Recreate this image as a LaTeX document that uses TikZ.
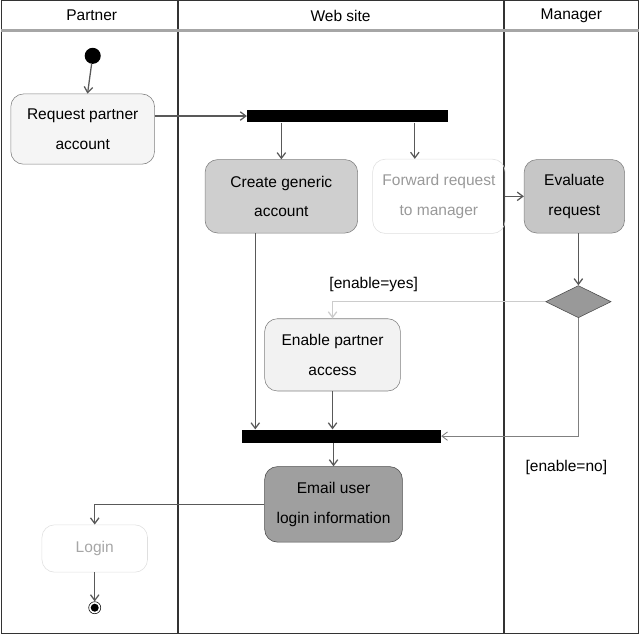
\documentclass[tikz,border=0pt]{standalone}
\usepackage{fontspec}
\setmainfont{Liberation Sans}
\usetikzlibrary{arrows.meta,shapes.geometric,positioning}

\begin{document}
\begin{tikzpicture}[x=0.025cm, y=-0.025cm,
    every node/.style={font=\fontsize{11}{21}\selectfont},
    action/.style={draw=gray, rounded corners=9pt, align=center, inner sep=2pt},
    bar/.style={fill=black, inner sep=0pt, minimum height=0.32cm},
    flow/.style={draw=gray!70!black, line width=0.9pt, -{Straight Barb[length=4pt,width=6pt]}},
    lane/.style={draw=black!80, line width=0.9pt}]
    % lanes
    \draw[lane] (2,5) rectangle (637,636);
    \draw[lane] (178,5) -- (178,636);
    \draw[lane] (503,5) -- (503,636);
    \draw[gray!70, line width=2pt] (2,35) -- (637,35);
    \node (hpartner) at (92,20) {Partner};
    \node (hweb) at (340,20) {Web site};
    \node (hmanager) at (570,20) {Manager};

    % actions
    \node[circle, fill=black, minimum size=0.4cm, inner sep=0pt] (init) at (93,60) {};
    \node[action, fill=gray!8, minimum width=3.58cm, minimum height=1.75cm] (req) at (83,133) {Request partner\\account};
    \node[bar, minimum width=5cm] (fork) at (347,120) {};
    \node[action, fill=gray!38, minimum width=3.8cm, minimum height=1.83cm] (create) at (281,200) {Create generic\\account};
    \node[action, draw=gray!25, text=gray!80, minimum width=3.3cm, minimum height=1.85cm] (fwd) at (438,200) {Forward request\\to manager};
    \node[action, fill=gray!45, minimum width=2.5cm, minimum height=1.83cm] (eval) at (573,200) {Evaluate\\request};
    \node[diamond, draw=gray!60!black, fill=gray!80, inner sep=0pt, minimum width=1.63cm, minimum height=0.8cm] (dec) at (577,305) {};
    \node (yes) at (373,288) {[enable=yes]};
    \node[action, fill=gray!10, minimum width=3.38cm, minimum height=1.8cm] (enable) at (332,358) {Enable partner\\access};
    \node[bar, minimum width=4.95cm] (join) at (341,439) {};
    \node (no) at (565,470) {[enable=no]};
    \node[action, draw=black!70, fill=gray!75, minimum width=3.43cm, minimum height=1.88cm] (email) at (333,507) {Email user\\login information};
    \node[action, draw=gray!25, text=gray!70, minimum width=2.63cm, minimum height=1.18cm] (login) at (95,551) {Login};
    \node[circle, draw=black, inner sep=1.5pt, minimum size=0.3cm] (final) at (95,610) {};
    \fill[black] (final) circle (0.1cm);

    % flows
    \draw[flow] (init) -- (req);
    \draw[flow] (req.east |- fork.west) -- (fork.west);
    \draw[flow] (create.north |- fork.south) -- (create.north);
    \draw[flow] ([xshift=-0.6cm]fwd.north |- fork.south) -- ([xshift=-0.6cm]fwd.north);
    \draw[flow] (fwd.east) -- (eval.west);
    \draw[flow] (dec.north |- eval.south) -- (dec.north);
    \draw[flow, draw=gray!40] (dec.west) -| (enable.north);
    \draw[flow] ([xshift=-0.65cm]create.south) -- ([xshift=-0.65cm]create.south |- join.north);
    \draw[flow] (enable.south) -- (enable.south |- join.north);
    \draw[flow, draw=gray, line width=0.6pt] (dec.south) |- (join.east);
    \draw[flow] (join.south -| email.north) -- (email.north);
    \draw[flow] (email.west) -| (login.north);
    \draw[flow] (login.south) -- (final.north);
\end{tikzpicture}
\end{document}
